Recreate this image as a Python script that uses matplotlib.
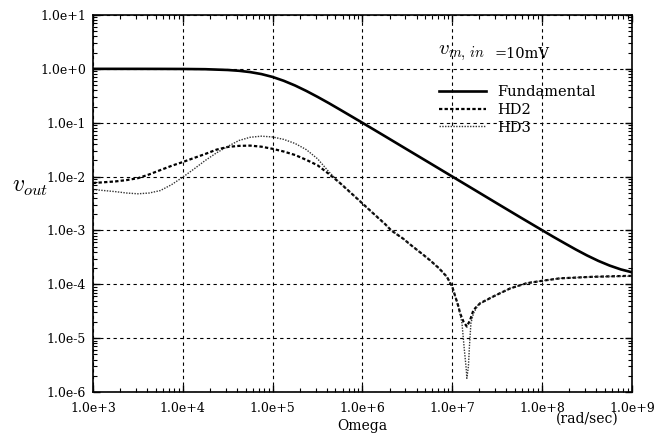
import math
import matplotlib
matplotlib.use("Agg")
import matplotlib.pyplot as plt
from matplotlib.ticker import LogLocator, FuncFormatter, NullFormatter

# ---- values (rad/sec, volts) ----
omega_fund = [1.0e3, 1.78e3, 3.16e3, 5.62e3, 1.0e4, 1.78e4, 3.16e4, 4.22e4, 5.62e4,
              7.50e4, 1.0e5, 1.33e5, 1.78e5, 2.37e5, 3.16e5, 4.22e5, 5.62e5, 1.0e6,
              1.78e6, 3.16e6, 5.62e6, 1.0e7, 1.78e7, 3.16e7, 5.62e7, 1.0e8, 1.33e8,
              1.78e8, 2.37e8, 3.16e8, 4.22e8, 5.62e8, 7.50e8, 1.0e9]
v_fund = [1.0, 0.9998, 0.9995, 0.998, 0.995, 0.985, 0.953, 0.921, 0.871,
          0.800, 0.707, 0.600, 0.490, 0.389, 0.302, 0.231, 0.175, 0.0995,
          0.0561, 0.0316, 0.0178, 0.0100, 5.62e-3, 3.16e-3, 1.78e-3, 1.009e-3, 7.62e-4,
          5.78e-4, 4.42e-4, 3.43e-4, 2.72e-4, 2.23e-4, 1.89e-4, 1.67e-4]

omega_hd2 = [1.0e3, 1.33e3, 1.78e3, 2.37e3, 3.16e3, 4.22e3, 5.62e3, 7.50e3,
             1.0e4, 1.33e4, 1.78e4, 2.37e4, 3.16e4, 4.22e4, 5.62e4, 7.50e4,
             1.0e5, 1.33e5, 1.78e5, 2.37e5, 3.16e5, 4.22e5, 5.62e5, 7.50e5,
             1.0e6, 1.33e6, 1.78e6, 2.09e6, 2.82e6, 3.69e6, 4.57e6, 5.66e6, 7.08e6,
             8.69e6, 1.0e7, 1.17e7, 1.22e7, 1.33e7, 1.45e7, 1.58e7, 1.72e7, 2.04e7,
             2.95e7, 4.41e7, 6.76e7, 1.03e8, 1.58e8, 3.72e8, 8.77e8, 1.0e9]
v_hd2 = [7.59e-3, 7.85e-3, 8.13e-3, 8.61e-3, 9.33e-3, 1.096e-2, 1.318e-2, 1.585e-2,
         1.862e-2, 2.213e-2, 2.63e-2, 3.162e-2, 3.548e-2, 3.715e-2, 3.758e-2, 3.589e-2,
         3.273e-2, 2.917e-2, 2.512e-2, 2.042e-2, 1.622e-2, 1.122e-2, 7.59e-3, 4.90e-3,
         3.162e-3, 2.042e-3, 1.318e-3, 1.0e-3, 7.08e-4, 4.90e-4, 3.715e-4, 2.78e-4, 1.995e-4,
         1.38e-4, 8.91e-5, 3.85e-5, 2.9e-5, 2.03e-5, 1.64e-5, 2.18e-5, 3.34e-5, 4.45e-5,
         6.1e-5, 8.4e-5, 1.05e-4, 1.17e-4, 1.29e-4, 1.38e-4, 1.43e-4, 1.43e-4]

omega_hd3 = [1.0e3, 1.33e3, 1.78e3, 2.37e3, 3.16e3, 4.22e3, 5.62e3, 7.50e3,
             1.0e4, 1.33e4, 1.78e4, 2.37e4, 3.16e4, 4.22e4, 5.62e4, 7.50e4,
             1.0e5, 1.33e5, 1.78e5, 2.37e5, 3.16e5, 4.22e5, 5.62e5, 7.50e5,
             1.0e6, 1.33e6, 1.78e6, 2.09e6, 2.82e6, 3.69e6, 4.57e6, 5.66e6, 7.08e6,
             8.69e6, 1.0e7, 1.17e7, 1.28e7, 1.35e7, 1.43e7, 1.45e7, 1.51e7, 1.55e7,
             1.61e7, 1.72e7, 1.95e7, 2.95e7, 4.41e7, 6.76e7, 1.03e8, 1.58e8, 3.72e8,
             8.77e8, 1.0e9]
v_hd3 = [5.75e-3, 5.50e-3, 5.25e-3, 4.95e-3, 4.79e-3, 4.95e-3, 5.50e-3, 7.08e-3,
         9.77e-3, 1.380e-2, 1.995e-2, 2.754e-2, 3.631e-2, 4.677e-2, 5.37e-2, 5.623e-2,
         5.433e-2, 4.898e-2, 4.111e-2, 3.162e-2, 2.138e-2, 1.230e-2, 7.59e-3, 4.90e-3,
         3.162e-3, 2.042e-3, 1.318e-3, 1.0e-3, 7.08e-4, 4.90e-4, 3.715e-4, 2.78e-4, 1.995e-4,
         1.38e-4, 8.91e-5, 3.85e-5, 1.9e-5, 7.0e-6, 2.6e-6, 1.8e-6, 2.98e-6, 7.0e-6,
         1.9e-5, 2.9e-5, 4.2e-5, 6.1e-5, 8.4e-5, 1.05e-4, 1.17e-4, 1.29e-4, 1.38e-4,
         1.41e-4, 1.41e-4]

xlim = (1.0e3, 1.0e9)
ylim = (1.0e-6, 1.0e1)

plt.rcParams["font.family"] = "DejaVu Serif"
plt.rcParams["mathtext.fontset"] = "cm"

fig = plt.figure(figsize=(6.58, 4.36), dpi=100)
ax = fig.add_axes([0.1413, 0.1009, 0.8192, 0.8647])

ax.plot(omega_fund, v_fund, color="black", lw=1.9, ls="-", label="Fundamental")
ax.plot(omega_hd2, v_hd2, color="black", lw=1.6, ls=(0, (1.5, 1.0)), label="HD2")
ax.plot(omega_hd3, v_hd3, color="#333333", lw=1.0, ls=(0, (1, 1)), label="HD3")

ax.set_xscale("log")
ax.set_yscale("log")
ax.set_xlim(*xlim)
ax.set_ylim(*ylim)

fmt = FuncFormatter(lambda v, p: "1.0e%+d" % round(math.log10(v)))
ax.xaxis.set_major_locator(LogLocator(base=10, numticks=20))
ax.yaxis.set_major_locator(LogLocator(base=10, numticks=20))
ax.xaxis.set_minor_locator(LogLocator(base=10, subs=range(2, 10), numticks=20))
ax.yaxis.set_minor_locator(LogLocator(base=10, subs=range(2, 10), numticks=20))
ax.xaxis.set_major_formatter(fmt)
ax.yaxis.set_major_formatter(fmt)
ax.xaxis.set_minor_formatter(NullFormatter())
ax.yaxis.set_minor_formatter(NullFormatter())
ax.tick_params(which="both", direction="in", top=True, right=True, labelsize=9)
ax.tick_params(which="major", length=5, width=1.0)
ax.tick_params(which="minor", length=3, width=0.8)
ax.tick_params(axis="x", pad=7)
ax.tick_params(axis="y", pad=5)
for s in ax.spines.values():
    s.set_linewidth(1.2)

ax.grid(True, which="major", color="black", lw=0.8, ls=(0, (3, 3)))

ax.set_xlabel("Omega", fontsize=10, labelpad=3)
fig.text(587 / 658, 1 - 419 / 436, "(rad/sec)", fontsize=10, ha="center", va="center")
fig.text(12 / 658, 1 - 187 / 436, r"$v_{out}$", fontsize=17, ha="left", va="center")
fig.text(438 / 658, 1 - 53 / 436, r"$v_{m,\,in}$", fontsize=15, ha="left", va="center")
fig.text(495 / 658, 1 - 54 / 436, "=10mV", fontsize=10.5, ha="left", va="center")

ax.legend(loc="upper left", bbox_to_anchor=(432 / 658, 1 - 78 / 436),
          bbox_transform=fig.transFigure, frameon=False, fontsize=10.5,
          handlelength=3.2, handletextpad=0.8, labelspacing=0.25, borderpad=0)

fig.savefig("out.png", dpi=100)
